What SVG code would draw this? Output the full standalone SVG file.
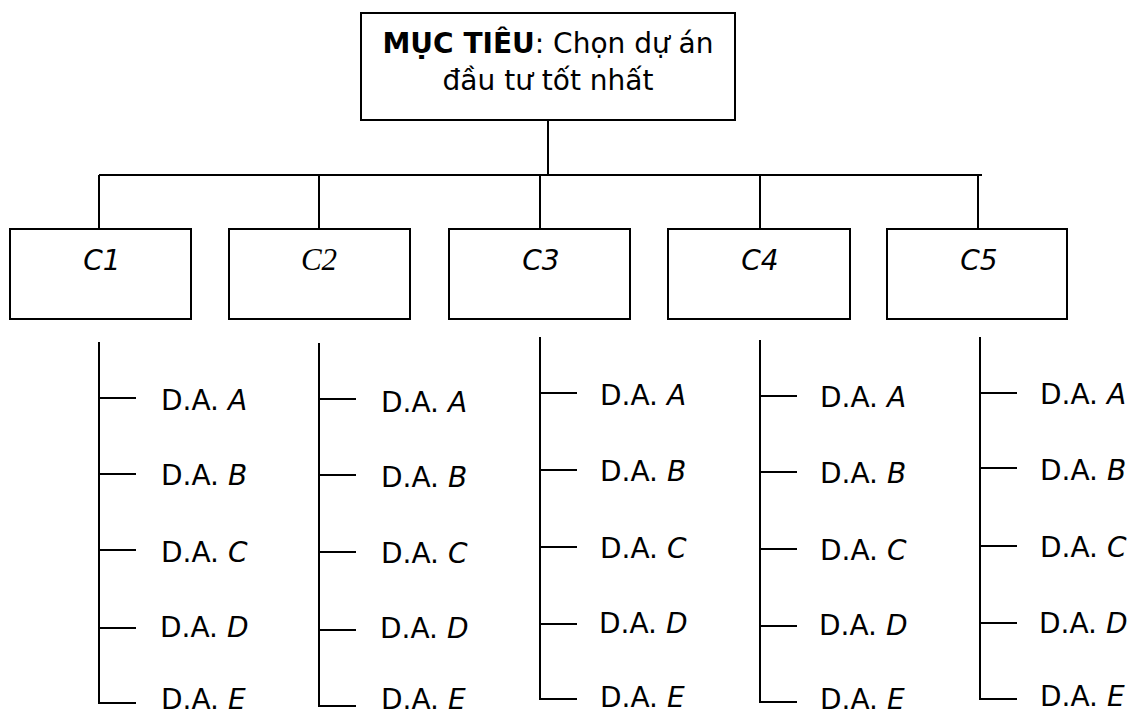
<svg xmlns="http://www.w3.org/2000/svg" width="1133" height="715" viewBox="0 0 1133 715">
  <style>
    .box { fill: #ffffff; stroke: #000000; stroke-width: 2; }
    .ln { fill: none; stroke: #000000; stroke-width: 2; }
    .t { font-family: "DejaVu Sans", Verdana, sans-serif; font-size: 28px; fill: #000000; }
    .it { font-style: italic; }
    .bd { font-weight: bold; }
    .ser { font-family: "Liberation Serif", "Times New Roman", serif; font-size: 31px; font-style: italic; fill: #000000; }
  </style>
  <rect width="1133" height="715" fill="#ffffff"/>

  <!-- connectors: goal to criteria, and each criterion's project list -->
  <g id="connectors" class="ln">
    <path d="M548 120 V175"/>
    <path d="M99 175 H982"/>
    <path d="M99 175 V229 M319 175 V229 M540 175 V229 M760 175 V229 M978 175 V229"/>
    <!-- C1 list -->
    <path d="M99 342 V703 H136 M99 398 H136 M99 474 H136 M99 550 H136 M99 628 H136"/>
    <!-- C2 list -->
    <path d="M319 343 V706 H356 M319 399 H356 M319 475 H356 M319 552 H356 M319 630 H356"/>
    <!-- C3 list -->
    <path d="M540 337 V699 H577 M540 393 H577 M540 470 H577 M540 547 H577 M540 624 H577"/>
    <!-- C4 list -->
    <path d="M760 340 V702 H797 M760 396 H797 M760 472 H797 M760 549 H797 M760 626 H797"/>
    <!-- C5 list -->
    <path d="M980 337 V699 H1017 M980 393 H1017 M980 468 H1017 M980 546 H1017 M980 623 H1017"/>
  </g>

  <g id="goal">
    <rect class="box" x="361" y="13" width="374" height="107"/>
    <text class="t" x="548" y="53" text-anchor="middle"><tspan class="bd">MỤC TIÊU</tspan>: Chọn dự án</text>
    <text class="t" x="548" y="90" text-anchor="middle">đầu tư tốt nhất</text>
  </g>

  <g id="c1">
    <rect class="box" x="10" y="229" width="181" height="90"/>
    <text class="t it" x="102" y="270" text-anchor="middle">C1</text>
  </g>
  <g id="c2">
    <rect class="box" x="229" y="229" width="181" height="90"/>
    <text class="ser" x="319" y="270" text-anchor="middle">C2</text>
  </g>
  <g id="c3">
    <rect class="box" x="449" y="229" width="181" height="90"/>
    <text class="t it" x="541" y="270" text-anchor="middle">C3</text>
  </g>
  <g id="c4">
    <rect class="box" x="668" y="229" width="182" height="90"/>
    <text class="t it" x="760" y="270" text-anchor="middle">C4</text>
  </g>
  <g id="c5">
    <rect class="box" x="887" y="229" width="180" height="90"/>
    <text class="t it" x="979" y="270" text-anchor="middle">C5</text>
  </g>

  <g id="list-c1" class="t">
    <text x="161" y="410">D.A. <tspan class="it">A</tspan></text>
    <text x="161" y="485">D.A. <tspan class="it">B</tspan></text>
    <text x="161" y="562">D.A. <tspan class="it">C</tspan></text>
    <text x="160" y="637">D.A. <tspan class="it">D</tspan></text>
    <text x="161" y="709">D.A. <tspan class="it">E</tspan></text>
  </g>
  <g id="list-c2" class="t">
    <text x="381" y="412">D.A. <tspan class="it">A</tspan></text>
    <text x="381" y="487">D.A. <tspan class="it">B</tspan></text>
    <text x="381" y="563">D.A. <tspan class="it">C</tspan></text>
    <text x="380" y="638">D.A. <tspan class="it">D</tspan></text>
    <text x="381" y="709">D.A. <tspan class="it">E</tspan></text>
  </g>
  <g id="list-c3" class="t">
    <text x="600" y="405">D.A. <tspan class="it">A</tspan></text>
    <text x="600" y="481">D.A. <tspan class="it">B</tspan></text>
    <text x="600" y="558">D.A. <tspan class="it">C</tspan></text>
    <text x="599" y="633">D.A. <tspan class="it">D</tspan></text>
    <text x="600" y="707">D.A. <tspan class="it">E</tspan></text>
  </g>
  <g id="list-c4" class="t">
    <text x="820" y="407">D.A. <tspan class="it">A</tspan></text>
    <text x="820" y="483">D.A. <tspan class="it">B</tspan></text>
    <text x="820" y="560">D.A. <tspan class="it">C</tspan></text>
    <text x="819" y="635">D.A. <tspan class="it">D</tspan></text>
    <text x="820" y="709">D.A. <tspan class="it">E</tspan></text>
  </g>
  <g id="list-c5" class="t">
    <text x="1040" y="404">D.A. <tspan class="it">A</tspan></text>
    <text x="1040" y="480">D.A. <tspan class="it">B</tspan></text>
    <text x="1040" y="557">D.A. <tspan class="it">C</tspan></text>
    <text x="1039" y="633">D.A. <tspan class="it">D</tspan></text>
    <text x="1040" y="706">D.A. <tspan class="it">E</tspan></text>
  </g>
</svg>
